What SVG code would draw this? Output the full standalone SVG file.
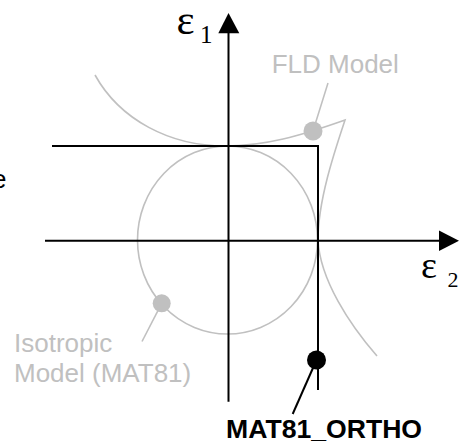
<svg xmlns="http://www.w3.org/2000/svg" width="461" height="445" viewBox="0 0 461 445">
<style>
.g{fill:none;stroke:#c0c0c0;stroke-width:1.6}
.gd{fill:#c0c0c0;stroke:none}
.k{fill:none;stroke:#000;stroke-width:2}
.gt{font-family:"Liberation Sans",Arial,sans-serif;font-size:26px;fill:#c0c0c0}
.kt{font-family:"Liberation Sans",Arial,sans-serif;font-size:26.6px;font-weight:bold;fill:#000}
.eps{font-family:"Liberation Serif","Times New Roman",serif;fill:#000}
</style>
<rect width="461" height="445" fill="#fff"/>
<g id="isotropic-model">
<ellipse class="g" cx="227.5" cy="240" rx="90" ry="94"/>
<line class="g" x1="161.7" y1="303.3" x2="142" y2="341.5"/>
<circle class="gd" cx="161.7" cy="303.3" r="9"/>
<text class="gt" x="14" y="351.7">Isotropic</text>
<text class="gt" x="14" y="381.7">Model (MAT81)</text>
</g>
<g id="fld-model">
<path class="g" d="M95,75 C120,120 170,146 225,146 C265,146 300,136 345,120 C335,150 318,200 318,240 C320,280 350,325 377,356"/>
<line class="g" x1="313" y1="131" x2="328" y2="83"/>
<circle class="gd" cx="313" cy="131" r="9.5"/>
<text class="gt" x="271.7" y="72.7">FLD Model</text>
</g>
<g id="connectors">
<line class="k" x1="228.5" y1="401.7" x2="228.5" y2="30"/>
<polygon points="228.5,13 218.3,33.3 239.3,33.3" fill="#000"/>
<line class="k" x1="45" y1="240.7" x2="442" y2="240.7"/>
<polygon points="459,240.7 439,230.5 439,250.9" fill="#000"/>
<polyline class="k" points="52,146 318,146 318,390"/>
</g>
<g id="mat81-ortho">
<line class="k" x1="316.5" y1="360" x2="292.7" y2="414"/>
<circle cx="316.5" cy="360" r="9.5" fill="#000"/>
<text class="kt" x="226" y="438.3">MAT81_ORTHO</text>
</g>
<g id="axis-labels">
<text class="eps" x="176.5" y="33.5" font-size="43">ε</text>
<text class="eps" x="200" y="43.3" font-size="25">1</text>
<text class="eps" x="421" y="278.3" font-size="38">ε</text>
<text class="eps" x="447.5" y="286.7" font-size="22">2</text>
</g>
<g id="clipped-label">
<text x="-8" y="188" font-family="'Liberation Sans',Arial,sans-serif" font-size="26" fill="#000">e</text>
</g>
</svg>
